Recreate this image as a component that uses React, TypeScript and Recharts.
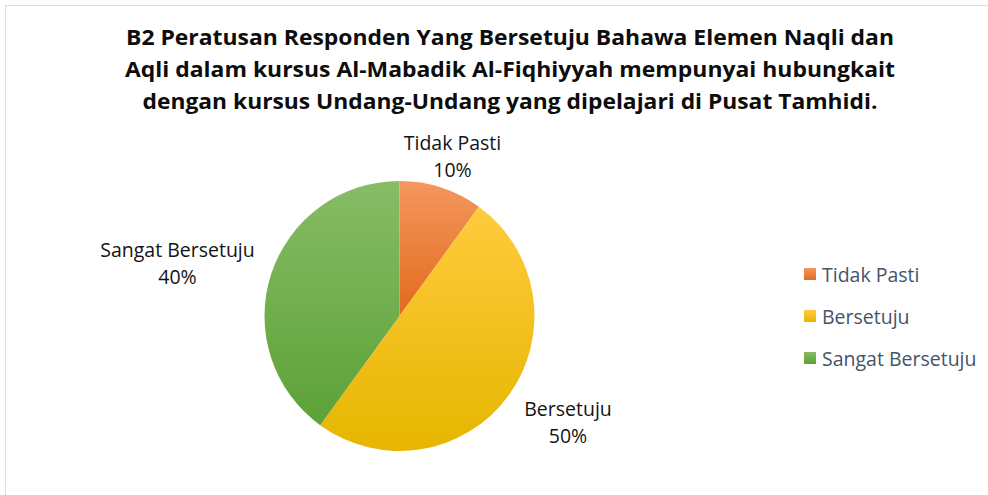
import React from 'react';
import { PieChart, Pie, Cell, Legend } from 'recharts';

const categories = ['Tidak Pasti', 'Bersetuju', 'Sangat Bersetuju'];
const percentages = [10, 50, 40];
const titleLines = [
  'B2 Peratusan Responden Yang Bersetuju Bahawa Elemen Naqli dan',
  'Aqli dalam kursus Al-Mabadik Al-Fiqhiyyah mempunyai hubungkait',
  'dengan kursus Undang-Undang yang dipelajari di Pusat Tamhidi.',
];

const data = categories.map((name, i) => ({ name, value: percentages[i] }));

const GRADIENTS: Record<string, { id: string; top: string; bottom: string }> = {
  'Tidak Pasti': { id: 'grad-tidak', top: '#F4975F', bottom: '#E26A1B' },
  Bersetuju: { id: 'grad-setuju', top: '#FFCB3D', bottom: '#E6B600' },
  'Sangat Bersetuju': { id: 'grad-sangat', top: '#88BC66', bottom: '#5CA137' },
};

// label placement relative to pie centre (first baseline)
const LABEL_OFFSET: Record<string, { dx: number; dy: number }> = {
  'Tidak Pasti': { dx: 53, dy: -166 },
  Bersetuju: { dx: 168.5, dy: 100 },
  'Sangat Bersetuju': { dx: -222, dy: -59.5 },
};

const TITLE_WIDTHS = [768, 770, 735];
const FONT = '"Open Sans", "Noto Sans", sans-serif';
const LABEL_SIZE = 19.5;

const renderLabel = (props: any) => {
  const { cx, cy, name, value } = props;
  const off = LABEL_OFFSET[name];
  const x = cx + off.dx;
  const y = cy + off.dy;
  return (
    <g>
      <text x={x} y={y} textAnchor="middle" fontFamily={FONT} fontSize={LABEL_SIZE} fill="#141414">
        {name}
      </text>
      <text x={x} y={y + 27} textAnchor="middle" fontFamily={FONT} fontSize={LABEL_SIZE} fill="#141414">
        {`${value}%`}
      </text>
    </g>
  );
};

const renderLegend = (props: any) => {
  const payload = [...(props.payload || [])].sort(
    (a: any, b: any) => categories.indexOf(a.value) - categories.indexOf(b.value)
  );
  return (
    <div style={{ display: 'flex', flexDirection: 'column' }}>
      {payload.map((entry: any) => {
        const g = GRADIENTS[entry.value];
        return (
          <div
            key={entry.value}
            style={{
              display: 'flex',
              alignItems: 'center',
              height: 42,
              fontFamily: FONT,
              fontSize: LABEL_SIZE,
              color: '#44546A',
              whiteSpace: 'nowrap',
            }}
          >
            <span
              style={{
                display: 'inline-block',
                width: 12,
                height: 12,
                marginRight: 6,
                background: `linear-gradient(${g.top}, ${g.bottom})`,
              }}
            />
            <span>{entry.value}</span>
          </div>
        );
      })}
    </div>
  );
};

export default function App() {
  return (
    <div style={{ position: 'fixed', left: 0, top: 0, width: 988, height: 495, overflow: 'hidden', background: '#fff' }}>
      <div
        style={{
          position: 'absolute',
          left: 5,
          top: 5,
          width: 1010,
          height: 520,
          border: '1px solid #d9dee4',
          boxSizing: 'border-box',
        }}
      />
      <svg width={988} height={130} style={{ position: 'absolute', left: 0, top: 0 }}>
        {titleLines.map((line, i) => (
          <text
            key={i}
            x={510}
            y={45 + i * 32}
            textAnchor="middle"
            fontFamily={FONT}
            fontWeight="bold"
            fontSize={21}
            fill="#0d0d0d"
            textLength={TITLE_WIDTHS[i]}
            lengthAdjust="spacingAndGlyphs"
          >
            {line}
          </text>
        ))}
      </svg>
      <div style={{ position: 'absolute', left: 0, top: 0 }}>
        <PieChart width={988} height={495} margin={{ top: 0, right: 0, bottom: 0, left: 0 }}>
          <defs>
            {Object.values(GRADIENTS).map((g) => (
              <linearGradient key={g.id} id={g.id} x1="0" y1="0" x2="0" y2="1">
                <stop offset="0%" stopColor={g.top} />
                <stop offset="100%" stopColor={g.bottom} />
              </linearGradient>
            ))}
          </defs>
          <Pie
            data={data}
            dataKey="value"
            nameKey="name"
            cx={399.5}
            cy={316}
            outerRadius={135}
            startAngle={90}
            endAngle={-270}
            stroke="none"
            label={renderLabel}
            labelLine={false}
            isAnimationActive={false}
          >
            {data.map((d) => (
              <Cell key={d.name} fill={`url(#${GRADIENTS[d.name].id})`} />
            ))}
          </Pie>
          <Legend
            layout="vertical"
            align="right"
            verticalAlign="top"
            content={renderLegend}
            wrapperStyle={{ position: 'absolute', left: 804, top: 253, width: 184 }}
          />
        </PieChart>
      </div>
    </div>
  );
}
